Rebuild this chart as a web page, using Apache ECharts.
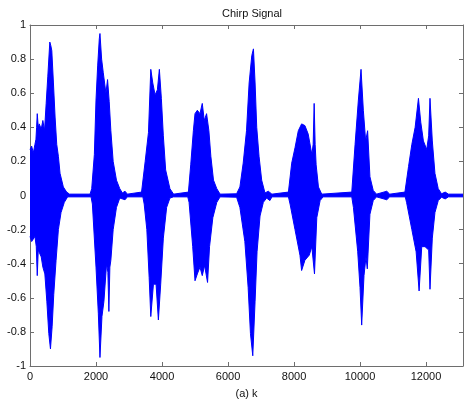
<!DOCTYPE html>
<html><head><meta charset="utf-8">
<script src="https://cdn.jsdelivr.net/npm/echarts@6/dist/echarts.min.js"></script>
<style>html,body{margin:0;padding:0;background:#fff}#c{width:464px;height:407px}</style>
</head><body><div id="c"></div>
<script>
// Chart text
const chartTitle = 'Chirp Signal';
const xLabel = '(a) k';
const xMin = 0, xMax = 13120, xStep = 2000;
const yMin = -1, yMax = 1, yStep = 0.2;

// Upper envelope of the signal (sample index k, amplitude)
const upperK = [0,50,100,150,180,200,220,250,280,340,390,440,490,540,600,630,660,710,760,810,860,910,1010,1110,1200,1820,1870,1950,2000,2050,2100,2120,2170,2220,2300,2350,2400,2450,2520,2620,2720,2800,2880,2950,3380,3490,3590,3660,3720,3790,3860,3920,3980,4040,4110,4240,4350,4800,4870,4950,5000,5070,5150,5220,5280,5350,5420,5480,5560,5660,5760,6260,6360,6460,6560,6640,6720,6770,6820,6870,6940,7020,7120,7220,7270,7330,7830,7930,8030,8130,8230,8330,8430,8540,8580,8610,8640,8670,8740,8840,9750,9850,9950,10030,10100,10170,10230,10300,10400,10500,10810,10900,11360,11470,11570,11670,11770,11840,11920,12020,12080,12120,12190,12270,12370,12470,12580,12680,13120];
const upperV = [0.27,0.29,0.25,0.30,0.33,0.40,0.48,0.40,0.42,0.39,0.44,0.38,0.54,0.70,0.90,0.88,0.85,0.66,0.46,0.30,0.23,0.13,0.05,0.02,0.008,0.008,0.04,0.24,0.56,0.76,0.92,0.95,0.80,0.72,0.60,0.68,0.55,0.38,0.20,0.09,0.04,0.015,0.025,0.008,0.02,0.20,0.37,0.74,0.66,0.59,0.62,0.74,0.57,0.35,0.15,0.04,0.008,0.02,0.18,0.38,0.48,0.50,0.48,0.54,0.44,0.48,0.38,0.23,0.09,0.04,0.008,0.01,0.05,0.19,0.38,0.66,0.82,0.86,0.66,0.40,0.23,0.09,0.015,0.025,0.03,0.008,0.02,0.19,0.28,0.38,0.42,0.41,0.36,0.24,0.30,0.54,0.30,0.18,0.05,0.008,0.02,0.30,0.56,0.74,0.50,0.32,0.38,0.11,0.03,0.008,0.025,0.008,0.02,0.17,0.30,0.40,0.57,0.43,0.32,0.27,0.35,0.57,0.32,0.13,0.04,0.01,0.02,0.008,0.008];

// Lower envelope of the signal
const lowerK = [0,50,100,150,190,220,250,280,340,390,450,510,570,620,670,720,790,860,940,1040,1140,1850,1890,2000,2070,2120,2180,2240,2320,2360,2390,2420,2450,2520,2620,2720,2880,2950,3420,3460,3540,3610,3660,3740,3820,3890,3960,4040,4140,4240,4350,4780,4820,4930,5000,5070,5150,5220,5290,5380,5440,5540,5660,5760,6260,6360,6510,6610,6680,6750,6820,6880,6970,7070,7170,7270,7330,7830,7880,8030,8180,8230,8330,8460,8540,8620,8690,8790,8880,9750,9800,9930,10000,10050,10120,10180,10220,10300,10400,10500,10810,10900,11370,11410,11570,11700,11790,11870,11970,12080,12120,12190,12270,12370,12470,12580,12680,13120];
const lowerV = [-0.24,-0.27,-0.28,-0.24,-0.30,-0.47,-0.32,-0.32,-0.36,-0.42,-0.46,-0.62,-0.81,-0.90,-0.77,-0.58,-0.38,-0.20,-0.10,-0.04,-0.008,-0.008,-0.05,-0.42,-0.69,-0.95,-0.71,-0.62,-0.40,-0.45,-0.68,-0.42,-0.38,-0.20,-0.07,-0.015,-0.025,-0.008,-0.008,-0.05,-0.20,-0.48,-0.71,-0.52,-0.52,-0.73,-0.52,-0.25,-0.07,-0.015,-0.008,-0.008,-0.04,-0.30,-0.50,-0.46,-0.42,-0.47,-0.41,-0.51,-0.30,-0.13,-0.04,-0.008,-0.01,-0.07,-0.27,-0.54,-0.81,-0.94,-0.62,-0.33,-0.12,-0.04,-0.015,-0.03,-0.008,-0.008,-0.05,-0.20,-0.35,-0.44,-0.38,-0.35,-0.30,-0.46,-0.13,-0.03,-0.008,-0.008,-0.07,-0.33,-0.54,-0.76,-0.47,-0.36,-0.43,-0.11,-0.03,-0.008,-0.025,-0.008,-0.008,-0.04,-0.20,-0.33,-0.56,-0.30,-0.30,-0.32,-0.55,-0.25,-0.10,-0.03,-0.01,-0.02,-0.008,-0.008];

const upperData = upperK.map((k, i) => [k, upperV[i]]);
const lowerData = lowerK.map((k, i) => [k, lowerV[i]]);

const font = 'Liberation Sans, Arial, sans-serif';
const textColor = '#111';
const frame = { show: true, onZero: false, lineStyle: { color: '#6e6e6e', width: 1 } };
const tickIn = { show: true, inside: true, length: 4, lineStyle: { color: '#6e6e6e' } };

const chart = echarts.init(document.getElementById('c'), null, { renderer: 'canvas' });
chart.setOption({
  animation: false,
  backgroundColor: '#ffffff',
  title: {
    text: chartTitle, left: 247, top: 3, textAlign: 'center',
    textStyle: { fontFamily: font, fontSize: 11, fontWeight: 'normal', color: textColor }
  },
  grid: { left: 30, right: 1, top: 25, bottom: 41, containLabel: false },
  xAxis: [
    {
      type: 'value', min: xMin, max: xMax, interval: xStep, position: 'bottom',
      name: xLabel, nameLocation: 'middle', nameGap: 22,
      nameTextStyle: { fontFamily: font, fontSize: 11, color: textColor },
      axisLine: frame, axisTick: tickIn, splitLine: { show: false },
      axisLabel: { fontFamily: font, fontSize: 11, color: textColor, margin: 5, showMaxLabel: false,
        formatter: v => String(v) }
    },
    {
      type: 'value', min: xMin, max: xMax, interval: xStep, position: 'top',
      axisLine: frame, axisTick: tickIn, splitLine: { show: false }, axisLabel: { show: false }
    }
  ],
  yAxis: [
    {
      type: 'value', min: yMin, max: yMax, interval: yStep, position: 'left',
      axisLine: frame, axisTick: tickIn, splitLine: { show: false },
      axisLabel: { fontFamily: font, fontSize: 11, color: textColor, margin: 4,
        formatter: v => String(Math.round(v * 10) / 10) }
    },
    {
      type: 'value', min: yMin, max: yMax, interval: yStep, position: 'right',
      axisLine: frame, axisTick: tickIn, splitLine: { show: false }, axisLabel: { show: false }
    }
  ],
  series: [
    {
      type: 'line', data: upperData, symbol: 'none', silent: true, z: 2,
      lineStyle: { color: '#0000ff', width: 1 },
      areaStyle: { color: '#0000ff', opacity: 1, origin: -0.006 }
    },
    {
      type: 'line', data: lowerData, symbol: 'none', silent: true, z: 2,
      lineStyle: { color: '#0000ff', width: 1 },
      areaStyle: { color: '#0000ff', opacity: 1, origin: 0.006 }
    }
  ]
});
</script></body></html>
